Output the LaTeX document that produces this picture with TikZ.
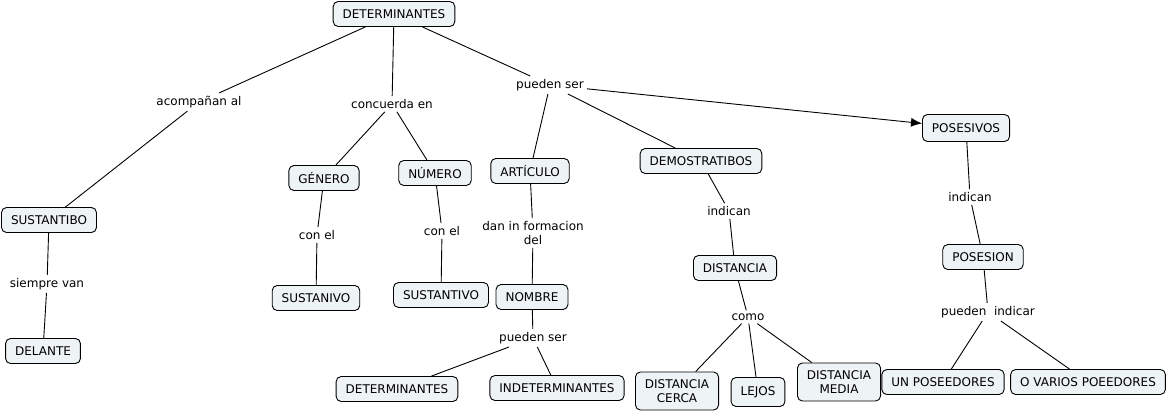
\documentclass[tikz,border=0pt]{standalone}
\usepackage{fontspec}
\setmainfont{DejaVu Sans}
\usetikzlibrary{shapes,backgrounds}
\usetikzlibrary{arrows.meta}
\definecolor{cmapfill}{RGB}{238,243,245}
\newcommand{\mapfont}{\fontsize{12}{14}\selectfont}

\begin{document}
\begin{tikzpicture}[x=1pt,y=-1pt,
  concept/.style={draw,line width=0.9pt,rounded corners=5pt,fill=cmapfill,inner xsep=9.5pt,minimum height=25pt,align=center,font=\mapfont},
  phrase/.style={inner sep=3pt,align=center,font=\mapfont},
  link/.style={line width=0.9pt}]
\useasboundingbox (0,0) rectangle (1170,412);
% concepts
\node[concept] (det) at (394,14) {DETERMINANTES};
\node[concept] (sust) at (49,220) {SUSTANTIBO};
\node[concept] (delante) at (43,351) {DELANTE};
\node[concept] (genero) at (324,178) {GÉNERO};
\node[concept] (numero) at (435,173) {NÚMERO};
\node[concept] (articulo) at (530,171) {ARTÍCULO};
\node[concept] (sustanivo) at (316,298) {SUSTANIVO};
\node[concept] (sustantivo) at (441,295) {SUSTANTIVO};
\node[concept] (nombre) at (532,297) {NOMBRE};
\node[concept] (detb) at (397,389) {DETERMINANTES};
\node[concept] (indet) at (557,388) {INDETERMINANTES};
\node[concept] (demos) at (701,161) {DEMOSTRATIBOS};
\node[concept] (distancia) at (735,268) {DISTANCIA};
\node[concept,minimum height=38pt] (cerca) at (677,391) {DISTANCIA\\CERCA};
\node[concept,minimum height=29pt] (lejos) at (758,392) {LEJOS};
\node[concept,minimum height=38pt] (media) at (839,382) {DISTANCIA\\MEDIA};
\node[concept,minimum height=27pt] (posesivos) at (966,128) {POSESIVOS};
\node[concept] (posesion) at (983,257) {POSESION};
\node[concept] (unpos) at (943,382) {UN POSEEDORES};
\node[concept] (varios) at (1088,382) {O VARIOS POEEDORES};
% linking phrases
\node[phrase] (acomp) at (199,102) {acompañan al};
\node[phrase] (concu) at (392,104) {concuerda en};
\node[phrase] (pueden) at (550,85) {pueden ser};
\node[phrase] (siempre) at (47,284) {siempre van};
\node[phrase] (conela) at (317,235) {con el};
\node[phrase] (conelb) at (442,231) {con el};
\node[phrase] (dan) at (533,233) {dan in formacion\\del};
\node[phrase] (puedenb) at (533,338) {pueden ser};
\node[phrase] (indicana) at (729,211) {indican};
\node[phrase] (como) at (748,317) {como};
\node[phrase] (indicanb) at (970,197) {indican};
\node[phrase] (indicar) at (988,312) {pueden\ \ indicar};
% connections
\draw[link] (det) -- (acomp) -- (sust);
\draw[link] (det) -- (concu);
\draw[link] (concu) -- (genero);
\draw[link] (concu) -- (numero);
\draw[link] (det) -- (pueden);
\draw[link] (pueden) -- (articulo);
\draw[link] (pueden) -- (demos);
\draw[link,-{Latex[length=11pt,width=9pt]}] (pueden) -- (posesivos);
\draw[link] (sust) -- (siempre) -- (delante);
\draw[link] (genero) -- (conela) -- (sustanivo);
\draw[link] (numero) -- (conelb) -- (sustantivo);
\draw[link] (articulo) -- (dan) -- (nombre);
\draw[link] (nombre) -- (puedenb);
\draw[link] (puedenb) -- (detb);
\draw[link] (puedenb) -- (indet);
\draw[link] (demos) -- (indicana) -- (distancia);
\draw[link] (distancia) -- (como);
\draw[link] (como) -- (cerca);
\draw[link] (como) -- (lejos);
\draw[link] (como) -- (media);
\draw[link] (posesivos) -- (indicanb) -- (posesion);
\draw[link] (posesion) -- (indicar);
\draw[link] (indicar) -- (unpos);
\draw[link] (indicar) -- (varios);
\end{tikzpicture}
\end{document}
